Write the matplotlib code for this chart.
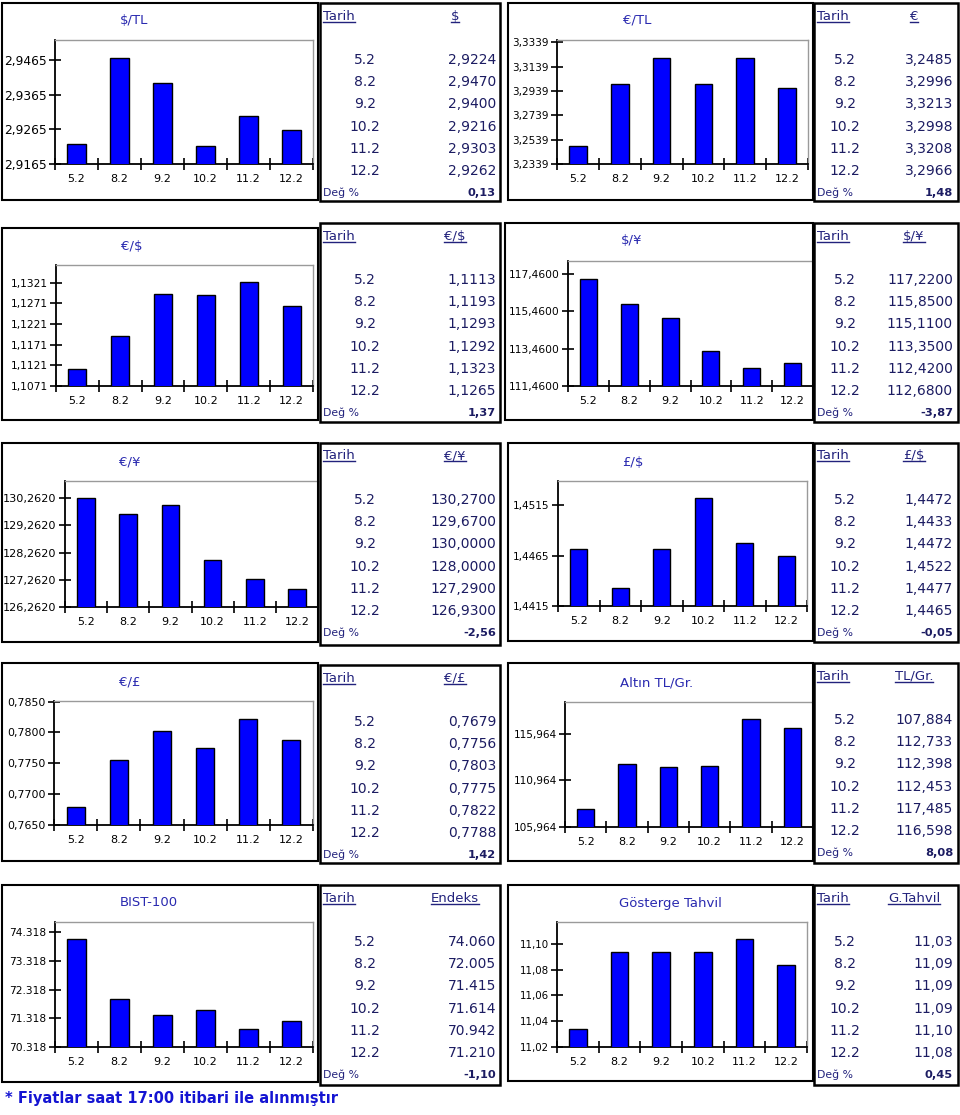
import matplotlib
matplotlib.use("Agg")
import matplotlib.pyplot as plt
from matplotlib.patches import Rectangle
from matplotlib.lines import Line2D

W, H = 960, 1115

# --- data -------------------------------------------------------------
dates = ["5.2", "8.2", "9.2", "10.2", "11.2", "12.2"]

usd_tl = [2.9224, 2.9470, 2.9400, 2.9216, 2.9303, 2.9262]
eur_tl = [3.2485, 3.2996, 3.3213, 3.2998, 3.3208, 3.2966]
eur_usd = [1.1113, 1.1193, 1.1293, 1.1292, 1.1323, 1.1265]
usd_jpy = [117.22, 115.85, 115.11, 113.35, 112.42, 112.68]
eur_jpy = [130.27, 129.67, 130.00, 128.00, 127.29, 126.93]
gbp_usd = [1.4472, 1.4433, 1.4472, 1.4522, 1.4477, 1.4465]
eur_gbp = [0.7679, 0.7756, 0.7803, 0.7775, 0.7822, 0.7788]
gold = [107.884, 112.733, 112.398, 112.453, 117.485, 116.598]
bist = [74.060, 72.005, 71.415, 71.614, 70.942, 71.210]
bond = [11.034, 11.094, 11.094, 11.094, 11.104, 11.084]

usd_tl_ticks = [2.9165, 2.9265, 2.9365, 2.9465]
eur_tl_ticks = [3.2339, 3.2539, 3.2739, 3.2939, 3.3139, 3.3339]
eur_usd_ticks = [1.1071, 1.1121, 1.1171, 1.1221, 1.1271, 1.1321]
usd_jpy_ticks = [111.46, 113.46, 115.46, 117.46]
eur_jpy_ticks = [126.262, 127.262, 128.262, 129.262, 130.262]
gbp_usd_ticks = [1.4415, 1.4465, 1.4515]
eur_gbp_ticks = [0.7650, 0.7700, 0.7750, 0.7800, 0.7850]
gold_ticks = [105.964, 110.964, 115.964]
bist_ticks = [70.318, 71.318, 72.318, 73.318, 74.318]
bond_ticks = [11.02, 11.04, 11.06, 11.08, 11.10]

titles = ["$/TL", "€/TL", "€/$", "$/¥", "€/¥", "£/$", "€/£", "Altın TL/Gr.",
          "BIST-100", "Gösterge Tahvil"]
headers = ["$", "€", "€/$", "$/¥", "€/¥", "£/$", "€/£", "TL/Gr.", "Endeks", "G.Tahvil"]
changes = ["0,13", "1,48", "1,37", "-3,87", "-2,56", "-0,05", "1,42", "8,08", "-1,10", "0,45"]

series = [usd_tl, eur_tl, eur_usd, usd_jpy, eur_jpy, gbp_usd, eur_gbp, gold, bist, bond]
ticks = [usd_tl_ticks, eur_tl_ticks, eur_usd_ticks, usd_jpy_ticks, eur_jpy_ticks,
         gbp_usd_ticks, eur_gbp_ticks, gold_ticks, bist_ticks, bond_ticks]
tick_dec = [4, 4, 4, 4, 4, 4, 4, 3, 3, 2]
table_dec = [4, 4, 4, 4, 4, 4, 4, 3, 3, 2]
dec_sep = [",", ",", ",", ",", ",", ",", ",", ",", ".", ","]
ymax = [2.9523, 3.3358, 1.1364, 118.17, 130.90, 1.4539, 0.7851, 119.35, 74.668, 11.117]

# --- layout (pixels, top-left origin) ---------------------------------
# box, plot area, table box, title centre, y tick font size
layout = [
    ((2, 3, 318, 200), (55, 40, 313, 164), (320, 3, 500, 201), (134, 20), 8.8),
    ((508, 3, 813, 200), (557, 40, 808, 164), (814, 3, 958, 201), (637, 20), 7.5),
    ((2, 228, 318, 420), (56, 265, 313, 386), (320, 223, 500, 422), (132, 247), 7.7),
    ((505, 223, 813, 420), (568, 261, 813, 386), (814, 223, 958, 422), (632, 241), 7.7),
    ((2, 443, 318, 642), (65, 481, 318, 607), (320, 443, 500, 645), (130, 462), 8.1),
    ((508, 443, 813, 641), (558, 481, 807, 606), (814, 443, 958, 642), (633, 463), 7.5),
    ((2, 663, 318, 861), (54, 701, 313, 825), (320, 665, 500, 863), (130, 682), 7.9),
    ((508, 663, 813, 861), (565, 702, 813, 827), (814, 663, 958, 863), (657, 683), 7.6),
    ((2, 885, 318, 1082), (55, 922, 313, 1047), (320, 885, 500, 1085), (149, 903), 7.7),
    ((508, 885, 813, 1081), (557, 922, 807, 1047), (814, 885, 958, 1085), (670, 904), 7.4),
]

TITLE_C = "#2a2ab0"
TEXT_C = "#1c1c62"
HEAD_C = "#22227c"

plt.rcParams["font.family"] = ["DejaVu Sans"]
fig = plt.figure(figsize=(W / 100, H / 100), dpi=100)
fig.patch.set_facecolor("white")


def fx(x):
    return x / W


def fy(y):
    return 1 - y / H


def fmt(v, d, sep):
    return f"{v:.{d}f}".replace(".", sep)


def box(x0, y0, x1, y1, lw):
    fig.add_artist(Rectangle((fx(x0), fy(y1)), (x1 - x0) / W, (y1 - y0) / H,
                             transform=fig.transFigure, fill=False,
                             edgecolor="black", lw=lw, zorder=5))


underlined = []

for i, (bx, ax_r, tb, tpos, tfs) in enumerate(layout):
    vals = series[i]
    box(*bx, lw=1.5)

    x0, y0, x1, y1 = ax_r
    ax = fig.add_axes([fx(x0), fy(y1), (x1 - x0) / W, (y1 - y0) / H])
    ax.bar(range(len(dates)), vals, width=0.42, color="#0000ff",
           edgecolor="black", linewidth=1.0, zorder=3)
    ax.set_xlim(-0.5, len(dates) - 0.5)
    ax.set_ylim(ticks[i][0], ymax[i])
    ax.set_yticks(ticks[i])
    ax.set_yticklabels([fmt(t, tick_dec[i], dec_sep[i]) for t in ticks[i]],
                       fontsize=tfs, color="black")
    ax.set_xticks([k - 0.5 for k in range(len(dates) + 1)])
    ax.set_xticklabels([])
    ax.set_xticks(range(len(dates)), minor=True)
    ax.set_xticklabels(dates, minor=True, fontsize=8, color="black")
    ax.tick_params(axis="both", which="major", direction="inout", length=8,
                   width=1.2, color="black", pad=2)
    ax.tick_params(axis="x", which="minor", length=0, pad=7)
    for s in ("left", "bottom"):
        ax.spines[s].set_color("black")
        ax.spines[s].set_linewidth(1.3)
    for s in ("top", "right"):
        ax.spines[s].set_color("#9a9a9a")
        ax.spines[s].set_linewidth(1.0)

    fig.text(fx(tpos[0]), fy(tpos[1]), titles[i], ha="center", va="center",
             fontsize=9.5, color=TITLE_C)

    # table
    t0x, t0y, t1x, t1y = tb
    box(t0x, t0y, t1x, t1y, lw=1.8)
    left = i % 2 == 0
    date_cx = t0x + (45 if left else 31)
    val_rx = t1x - (4 if left else 5)
    head_cx = 455 if left else 914
    th = fig.text(fx(t0x + 3), fy(t0y + 13), "Tarih", ha="left", va="center",
                  fontsize=9.5, color=HEAD_C)
    hv = fig.text(fx(head_cx), fy(t0y + 13), headers[i], ha="center", va="center",
                  fontsize=9.5, color=HEAD_C)
    underlined += [th, hv]
    for k, (d, v) in enumerate(zip(dates, vals)):
        yy = t0y + 57 + 22.2 * k
        fig.text(fx(date_cx), fy(yy), d, ha="center", va="center",
                 fontsize=10, color=TEXT_C)
        fig.text(fx(val_rx), fy(yy), fmt(v, table_dec[i], dec_sep[i]), ha="right",
                 va="center", fontsize=10, color=TEXT_C)
    fig.text(fx(t0x + 3), fy(t0y + 190), "Değ %", ha="left", va="center",
             fontsize=7.8, color=HEAD_C)
    fig.text(fx(val_rx), fy(t0y + 190), changes[i], ha="right", va="center",
             fontsize=8.2, fontweight="bold", color=TEXT_C)

fig.text(fx(5), fy(1099), "* Fiyatlar saat 17:00 itibari ile alınmıştır", ha="left",
         va="center", fontsize=10.5, fontweight="bold", color="#1414d2")

# underline the table headers
fig.canvas.draw()
for t in underlined:
    bb = t.get_window_extent()
    fig.add_artist(Line2D([bb.x0 / W, bb.x1 / W], [(bb.y0 + 1) / H] * 2,
                          transform=fig.transFigure, color=t.get_color(), lw=1.0))

fig.savefig("out.png", dpi=100)
